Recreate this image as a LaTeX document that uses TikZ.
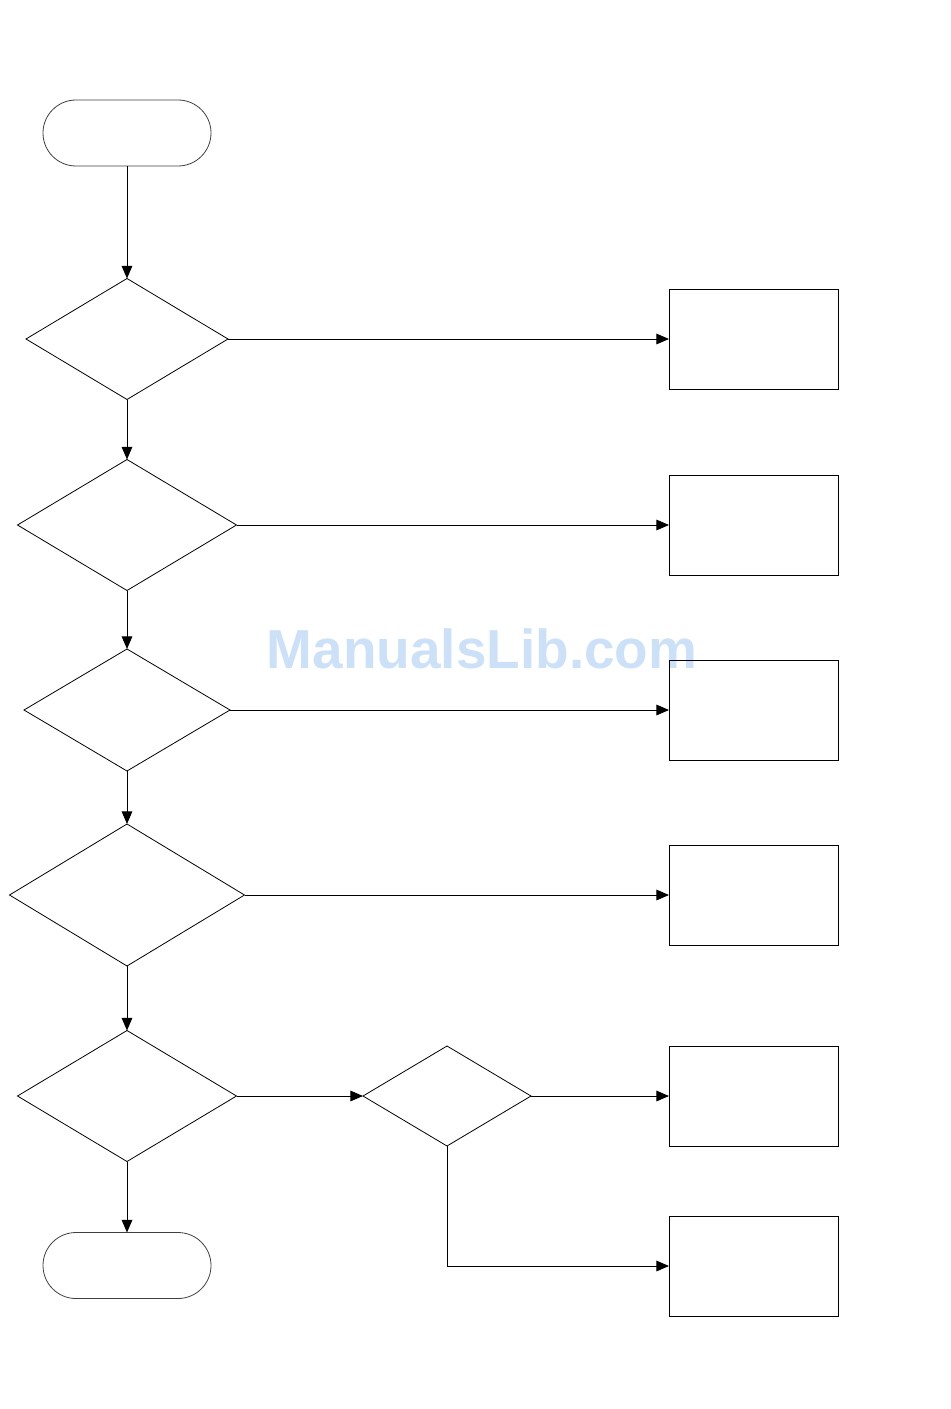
\documentclass[tikz,border=0pt]{standalone}
\usepackage{fontspec}
\newfontfamily\wmfont{Liberation Sans}
\usetikzlibrary{shapes.geometric,shapes.misc,arrows.meta}
\definecolor{wmblue}{RGB}{204,224,248}
\begin{document}
\begin{tikzpicture}[x=0.75pt,y=-0.75pt,
  every node/.style={inner sep=0pt,outer sep=0pt,draw=black,line width=0.6pt},
  term/.style={rounded rectangle,minimum width=126pt,minimum height=49.5pt,draw=black!75},
  dia/.style={diamond},
  outbox/.style={rectangle,minimum width=126.75pt,minimum height=75pt},
  arr/.style={-{Triangle[length=9.5pt,width=8pt]},line width=0.7pt}]
\useasboundingbox (0,0) rectangle (950,1409);
\node[draw=none,text=wmblue,font=\wmfont\bfseries\fontsize{41.2pt}{43pt}\selectfont] (wm) at (482,648.5) {ManualsLib.com};
\node[term] (start) at (127,133) {};
\node[dia,minimum width=151.5pt,minimum height=90.75pt] (d1) at (127,339) {};
\node[dia,minimum width=164.25pt,minimum height=98.25pt] (d2) at (127,525) {};
\node[dia,minimum width=154.5pt,minimum height=91.5pt] (d3) at (127,710) {};
\node[dia,minimum width=176.25pt,minimum height=106.5pt] (d4) at (127,895) {};
\node[dia,minimum width=164.25pt,minimum height=98.25pt] (d5) at (127,1096) {};
\node[dia,minimum width=126pt,minimum height=75pt] (d6) at (447,1096) {};
\node[term] (stop) at (127,1265.5) {};
\node[outbox] (b1) at (753.5,339) {};
\node[outbox] (b2) at (753.5,525) {};
\node[outbox] (b3) at (753.5,710) {};
\node[outbox] (b4) at (753.5,895) {};
\node[outbox] (b5) at (753.5,1096) {};
\node[outbox] (b6) at (753.5,1266) {};
\draw[arr] (start) -- (d1);
\draw[arr] (d1) -- (d2);
\draw[arr] (d2) -- (d3);
\draw[arr] (d3) -- (d4);
\draw[arr] (d4) -- (d5);
\draw[arr] (d5) -- (stop);
\draw[arr] (d1.east) -- (b1.west);
\draw[arr] (d2.east) -- (b2.west);
\draw[arr] (d3.east) -- (b3.west);
\draw[arr] (d4.east) -- (b4.west);
\draw[arr] (d5.east) -- (d6.west);
\draw[arr] (d6.east) -- (b5.west);
\draw[arr] (d6.south) |- (b6.west);
\end{tikzpicture}
\end{document}
